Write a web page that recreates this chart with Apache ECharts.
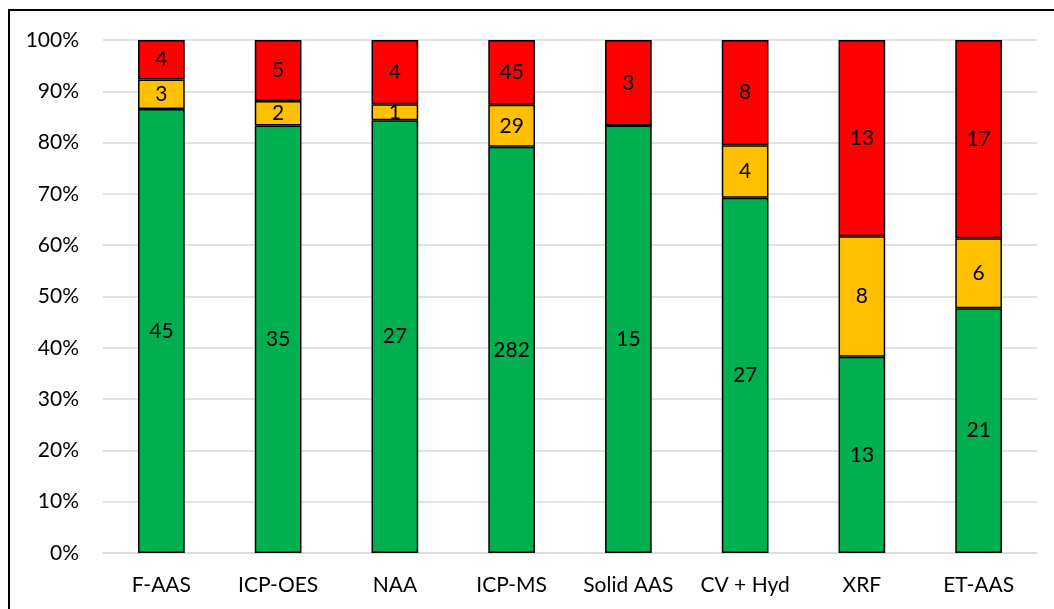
<!DOCTYPE html>
<html>
<head>
<meta charset="utf-8">
<style>
  html, body { margin: 0; padding: 0; background: #fff; }
  #chart { width: 1054px; height: 609px; }
</style>
<script src="https://cdn.jsdelivr.net/npm/echarts@6/dist/echarts.min.js"></script>
</head>
<body>
<div id="chart"></div>
<script>
// Techniques and the number of results in each outcome group
const categories = ['F-AAS', 'ICP-OES', 'NAA', 'ICP-MS', 'Solid AAS', 'CV + Hyd', 'XRF', 'ET-AAS'];
const greenCounts  = [45, 35, 27, 282, 15, 27, 13, 21];
const yellowCounts = [3, 2, 1, 29, 0, 4, 8, 6];
const redCounts    = [4, 5, 4, 45, 3, 8, 13, 17];
const yTicks = [0, 10, 20, 30, 40, 50, 60, 70, 80, 90, 100];

const totals = categories.map((_, i) => greenCounts[i] + yellowCounts[i] + redCounts[i]);
const toShare = counts => counts.map((c, i) => c / totals[i] * 100);

const FONT = 'Lato, "Open Sans", sans-serif';

function makeSeries(name, counts, color) {
  return {
    name: name,
    type: 'bar',
    stack: 'share',
    barWidth: '40%',
    data: toShare(counts),
    itemStyle: { color: color, borderColor: '#000', borderWidth: 1.5 },
    label: {
      show: true,
      position: 'inside',
      color: '#000',
      fontFamily: FONT,
      fontSize: 21,
      formatter: p => counts[p.dataIndex] > 0 ? String(counts[p.dataIndex]) : ''
    }
  };
}

const chart = echarts.init(document.getElementById('chart'), null, { renderer: 'canvas' });
chart.setOption({
  animation: false,
  backgroundColor: '#fff',
  graphic: [{
    type: 'rect',
    shape: { x: 9, y: 10, width: 1200, height: 800 },
    style: { fill: 'none', stroke: '#000', lineWidth: 2 },
    z: 100
  }],
  grid: { left: 103, right: 17, top: 40, bottom: 56, containLabel: false },
  xAxis: {
    type: 'category',
    data: categories,
    axisLine: { show: true, lineStyle: { color: '#d9d9d9', width: 1.5 } },
    axisTick: { show: false },
    axisLabel: { color: '#000', fontFamily: FONT, fontSize: 21, margin: 22, interval: 0, hideOverlap: false }
  },
  yAxis: {
    type: 'value',
    min: yTicks[0],
    max: yTicks[yTicks.length - 1],
    interval: yTicks[1] - yTicks[0],
    axisLine: { show: false },
    axisTick: { show: false },
    splitLine: { lineStyle: { color: '#d9d9d9', width: 1.5 } },
    axisLabel: { color: '#000', fontFamily: FONT, fontSize: 21, margin: 24, formatter: '{value}%' }
  },
  series: [
    makeSeries('green', greenCounts, '#00b050'),
    makeSeries('yellow', yellowCounts, '#ffc000'),
    makeSeries('red', redCounts, '#ff0000')
  ]
});
</script>
</body>
</html>
